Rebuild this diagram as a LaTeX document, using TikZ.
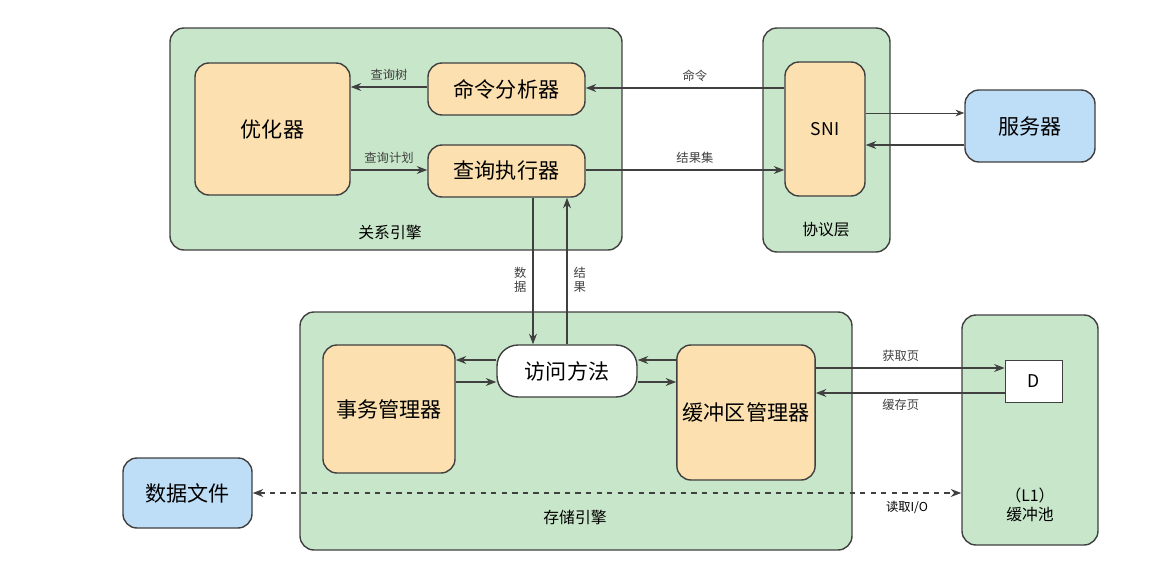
\documentclass[tikz,border=0pt]{standalone}
\usepackage{fontspec}
\setmainfont{Noto Sans CJK SC}
\usetikzlibrary{arrows.meta}
\definecolor{grn}{HTML}{C8E6C9}
\definecolor{org}{HTML}{FCE0B0}
\definecolor{blu}{HTML}{BEDDF7}
\tikzset{
  sz/.style 2 args={minimum width=#1*0.02cm, minimum height=#2*0.02cm},
  grp/.style={draw=black!75, fill=grn, rounded corners=8pt, thick},
  unit/.style={draw=black!75, fill=org, rounded corners=8pt, thick, font=\large},
  ext/.style={draw=black!75, fill=blu, rounded corners=8pt, thick, font=\large},
  lab/.style={font=\small},
  tag/.style={font=\scriptsize},
  flow/.style={-{Stealth[length=6pt]}, thick, black!75}
}
\begin{document}
\begin{tikzpicture}[x=0.02cm,y=-0.02cm]
  \useasboundingbox (0,0) rectangle (1164,578);
  % groups
  \node[grp, sz={452}{222}] (rel) at (396,139) {};
  \node[grp, sz={127}{224}] (proto) at (826.5,140) {};
  \node[grp, sz={552}{238}] (store) at (576,431) {};
  \node[grp, sz={136}{230}] (pool) at (1030,430) {};
  \node[lab] (rellab) at (390,232) {关系引擎};
  \node[lab] (protolab) at (826,230) {协议层};
  \node[lab] (storelab) at (575,517) {存储引擎};
  \node[lab, align=center] (poollab) at (1030,505) {（L1）\\缓冲池};
  % units
  \node[unit, sz={155}{132}] (opt) at (272.5,129) {优化器};
  \node[unit, sz={157}{52}] (cmd) at (506.5,89) {命令分析器};
  \node[unit, sz={157}{52}] (exe) at (506.5,171) {查询执行器};
  \node[unit, sz={80}{134}, font=\normalsize] (sni) at (825,129) {SNI};
  \node[ext, sz={130}{72}] (srv) at (1030,126) {服务器};
  \node[unit, sz={132}{128}] (tx) at (389,409) {事务管理器};
  \node[draw=black!75, fill=white, rounded corners=12pt, thick, font=\large, sz={140}{52}] (acc) at (567,371) {访问方法};
  \node[unit, sz={138}{135}] (buf) at (746,412.5) {缓冲区管理器};
  \node[draw=black!75, fill=white, sz={57}{42}] (D) at (1033.5,381) {D};
  \node[ext, sz={129}{70}] (file) at (187.5,493) {数据文件};
  % connectors
  \draw[flow] (cmd.west |- 0,87) -- node[tag, above] {查询树} (opt.east |- 0,87);
  \draw[flow] (opt.east |- 0,170) -- node[tag, above] {查询计划} (exe.west |- 0,170);
  \draw[flow] (sni.west |- 0,88) -- node[tag, above, pos=0.45] {命令} (cmd.east |- 0,88);
  \draw[flow] (exe.east |- 0,170) -- node[tag, above, pos=0.55] {结果集} (sni.west |- 0,170);
  \draw[-{Stealth[length=5pt]}, black!75] (sni.east |- 0,113) -- (srv.west |- 0,113);
  \draw[flow] (srv.west |- 0,145) -- (sni.east |- 0,145);
  \draw[flow] (exe.south -| 533,0) -- node[tag, left, align=center, pos=0.56] {数\\据} (acc.north -| 533,0);
  \draw[flow] (acc.north -| 567,0) -- node[tag, right, align=center, pos=0.44] {结\\果} (exe.south -| 567,0);
  \draw[flow] (acc.west |- 0,360) -- (tx.east |- 0,360);
  \draw[flow] (tx.east |- 0,382) -- (acc.west |- 0,382);
  \draw[flow] (buf.west |- 0,360) -- (acc.east |- 0,360);
  \draw[flow] (acc.east |- 0,382) -- (buf.west |- 0,382);
  \draw[flow] (buf.east |- 0,368) -- node[tag, above, pos=0.45] {获取页} (D.west |- 0,368);
  \draw[flow] (D.west |- 0,393) -- node[tag, below, pos=0.55] {缓存页} (buf.east |- 0,393);
  \draw[{Stealth[length=6pt]}-{Stealth[length=6pt]}, thick, dashed, black!75]
    (file.east |- 0,493) -- (pool.west |- 0,493);
  \node[tag] (io) at (907,507) {读取I/O};
\end{tikzpicture}
\end{document}
